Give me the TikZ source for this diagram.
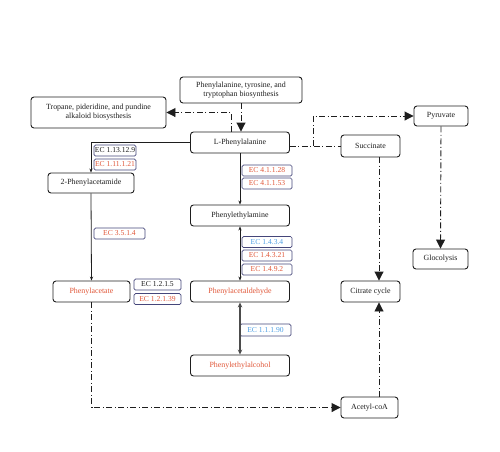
\documentclass[tikz,border=0pt]{standalone}
\usepackage{fontspec}
\setmainfont{Liberation Serif}
\usetikzlibrary{arrows.meta}
\definecolor{txt}{HTML}{1E1E1E}
\definecolor{redt}{HTML}{E0583A}
\definecolor{bluet}{HTML}{4F9FE3}
\definecolor{ecb}{HTML}{45467A}
\tikzset{
  box/.style={draw=txt, rounded corners=3pt, line width=0.9pt, minimum height=21pt, inner sep=1pt, align=center, font=\fontsize{7.9}{8.8}\selectfont, text=txt},
  ecbox/.style={draw=ecb, rounded corners=1.5pt, line width=0.7pt, minimum width=50pt, minimum height=11pt, inner sep=0pt, font=\fontsize{7.6}{8}\selectfont, text=txt},
  dd/.style={line width=0.9pt, draw=txt, dash pattern=on 6pt off 2.5pt on 1pt off 2.5pt},
  bigarrow/.style={-{Triangle[width=9pt,length=9pt]}},
  smallarrow/.style={line width=0.8pt, draw=txt, -{Stealth[length=4pt,width=3.2pt]}},
  dblarrow/.style={line width=0.8pt, draw=txt, {Stealth[length=4pt,width=3.2pt]}-{Stealth[length=4pt,width=3.2pt]}}
}
\begin{document}
\begin{tikzpicture}[x=1pt,y=-1pt]
\useasboundingbox (0,0) rectangle (500,451);
% main nodes
\node[box, minimum width=122pt, minimum height=26pt] (top) at (241,90) {Phenylalanine, tyrosine, and\\tryptophan biosynthesis};
\node[box, minimum width=135pt, minimum height=31pt] (trop) at (98.5,112.5) {Tropane, pideridine, and pundine\\alkaloid biosysthesis};
\node[box, minimum width=99pt] (lphe) at (240,142.5) {L-Phenylalanine};
\node[box, minimum width=54pt, minimum height=20pt] (pyr) at (441,116) {Pyruvate};
\node[box, minimum width=59pt, minimum height=22pt] (succ) at (370.5,146) {Succinate};
\node[box, minimum width=86pt, minimum height=20pt] (amide) at (91,183) {2-Phenylacetamide};
\node[box, minimum width=99pt] (pea) at (240,215.5) {Phenylethylamine};
\node[box, minimum width=77pt, text=redt] (acet) at (91.5,291.5) {Phenylacetate};
\node[box, minimum width=99pt, text=redt] (ald) at (240,291.5) {Phenylacetaldehyde};
\node[box, minimum width=99pt, text=redt] (alc) at (240,365.5) {Phenylethylalcohol};
\node[box, minimum width=59pt] (cit) at (370.5,291.5) {Citrate cycle};
\node[box, minimum width=57pt] (acoa) at (369.5,407.5) {Acetyl-coA};
\node[box, minimum width=55pt, minimum height=20pt] (glyc) at (440.5,259) {Glocolysis};
% EC boxes
\node[ecbox, minimum width=42pt] (ec1) at (115,150.5) {EC 1.13.12.9};
\node[ecbox, minimum width=42pt, text=redt] (ec2) at (115,164.5) {EC 1.11.1.21};
\node[ecbox, text=redt] (ec3) at (267,170.5) {EC 4.1.1.28};
\node[ecbox, text=redt] (ec4) at (267,183.5) {EC 4.1.1.53};
\node[ecbox, minimum width=51pt, text=redt] (ec5) at (119.5,233.5) {EC 3.5.1.4};
\node[ecbox, text=bluet] (ec6) at (267,242) {EC 1.4.3.4};
\node[ecbox, text=redt] (ec7) at (267,255.5) {EC 1.4.3.21};
\node[ecbox, text=redt] (ec8) at (267,269.5) {EC 1.4.9.2};
\node[ecbox, minimum width=47pt] (ec9) at (157.5,284.5) {EC 1.2.1.5};
\node[ecbox, minimum width=47pt, text=redt] (ec10) at (157.5,299) {EC 1.2.1.39};
\node[ecbox, minimum width=51pt, minimum height=12pt, text=bluet] (ec11) at (265.5,330) {EC 1.1.1.90};
% helper coordinates
\coordinate (tropstart) at (231,132);
\coordinate (br) at (313,146);
\coordinate (succx) at (379,157);
\coordinate (acoax) at (379,397);
% dash-dot connectors
\draw[dd, bigarrow] (top.south) -- (top.south |- lphe.north);
\draw[dd, bigarrow] (tropstart) |- (trop.east);
\draw[dd] (lphe.east |- succ.west) -- (succ.west);
\draw[dd, bigarrow] (br) |- (pyr.west);
\draw[dd, bigarrow] (succx) -- (succx |- cit.north);
\draw[dd, bigarrow] (pyr.south) -- (glyc.north);
\draw[dd, bigarrow] (acet.south) |- (acoa.west);
\draw[dd, bigarrow] (acoax) -- (acoax |- cit.south);
% solid connectors
\draw[smallarrow] (lphe.west) -| (amide.north);
\draw[smallarrow] (lphe.south) -- (pea.north);
\draw[smallarrow] (amide.south) -- (acet.north);
\draw[dblarrow] (pea.south) -- (ald.north);
\draw[line width=1.3pt, draw=black!70, {Stealth[length=5pt,width=4.5pt]}-{Stealth[length=5pt,width=4.5pt]}] (ald.south) -- (alc.north);
\end{tikzpicture}
\end{document}
